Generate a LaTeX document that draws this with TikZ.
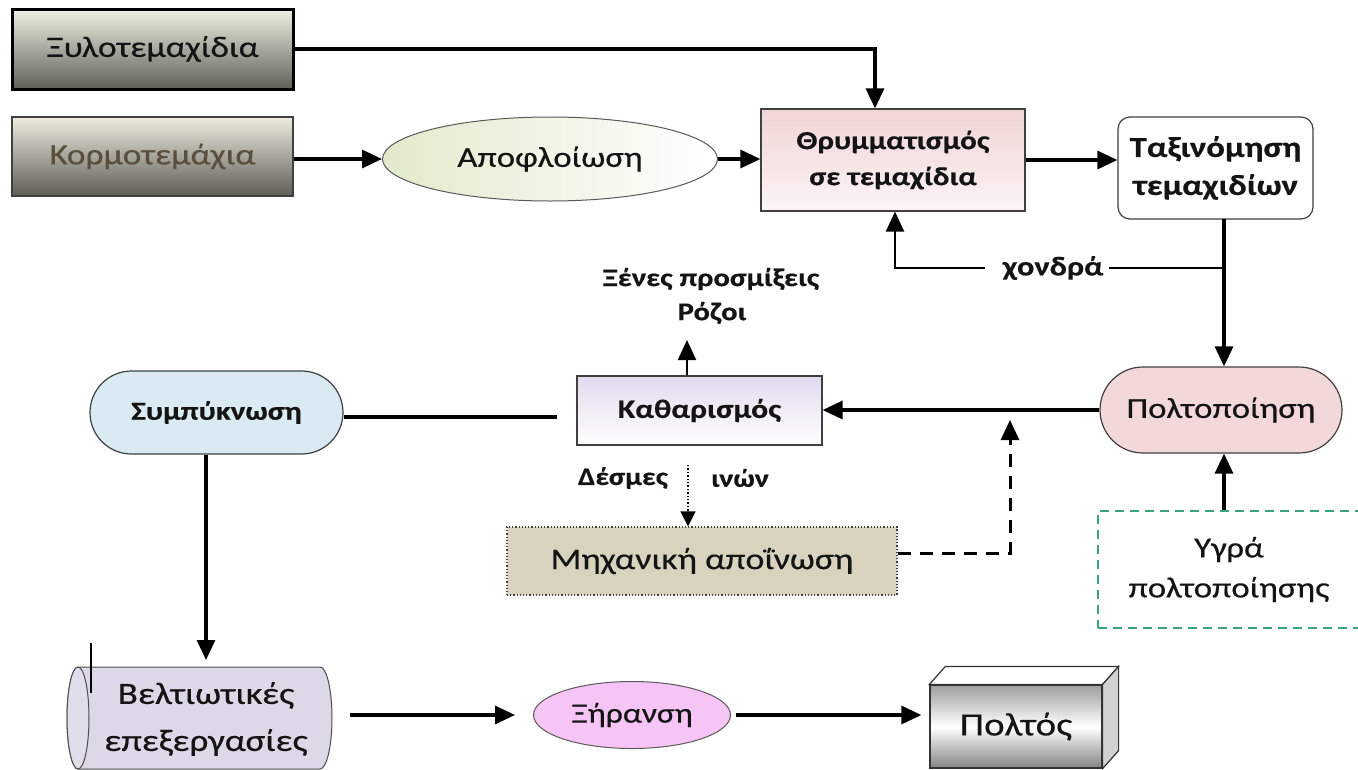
\documentclass[tikz,border=0pt]{standalone}
\usepackage{fontspec}
\setmainfont{Carlito}[FakeStretch=1.2,FakeBold=0.4]
\usetikzlibrary{arrows.meta,shapes.geometric,calc}
\definecolor{xyT}{HTML}{EEF1E3}
\definecolor{xyB}{HTML}{5D6157}
\definecolor{koT}{HTML}{EEEBE0}
\definecolor{koB}{HTML}{5E5D56}
\definecolor{koText}{HTML}{5A4E3E}
\definecolor{apL}{HTML}{E2EACC}
\definecolor{thT}{HTML}{F0D4D4}
\definecolor{thB}{HTML}{FCF4F4}
\definecolor{poltC}{HTML}{F2D8D8}
\definecolor{ygraG}{HTML}{3AA57A}
\definecolor{kaT}{HTML}{E0DAEE}
\definecolor{sympC}{HTML}{D9EAF3}
\definecolor{mixC}{HTML}{D8D2BF}
\definecolor{cylC}{HTML}{DCD8E8}
\definecolor{xerC}{HTML}{F6C5F6}
\newcommand{\fsz}[2]{\fontsize{#1}{#2}\selectfont}
\tikzset{
  tip/.style={-{Triangle[length=20pt,width=18pt]}},
  arr/.style={line width=3.2pt,tip},
  thinarr/.style={line width=2.2pt,tip},
  boxline/.style={draw=black!75,line width=1.2pt},
}
\begin{document}
\begin{tikzpicture}[x=1pt,y=-1pt,every node/.style={inner sep=0pt,align=center,text=black!92}]
\useasboundingbox (0,0) rectangle (1358,769);

% boxes
\node[draw=black,line width=3pt,top color=xyT,bottom color=xyB,minimum width=281pt,minimum height=80pt,font=\fsz{29.5}{34}] (xylo) at (152.5,49) {Ξυλοτεμαχίδια};
\node[boxline,top color=koT,bottom color=koB,minimum width=281pt,minimum height=79pt,font=\fsz{29.5}{34},text=koText] (korm) at (152.5,156.5) {Κορμοτεμάχια};
\node[ellipse,draw=black!65,line width=1pt,left color=apL,right color=white,minimum width=335pt,minimum height=84pt,font=\fsz{29}{34}] (apofl) at (550,159) {Αποφλοίωση};
\node[boxline,top color=thT,bottom color=thB,minimum width=264pt,minimum height=102pt,font=\fsz{26}{36}\bfseries] (thr) at (893,160) {Θρυμματισμός\\σε τεμαχίδια};
\node[boxline,fill=white,rounded corners=12pt,minimum width=195pt,minimum height=102pt,font=\fsz{29}{38}\bfseries] (tax) at (1215.5,168) {Ταξινόμηση\\τεμαχιδίων};
\node[boxline,fill=poltC,rounded corners=43pt,minimum width=242pt,minimum height=86pt,font=\fsz{29}{34}] (polt) at (1221,410) {Πολτοποίηση};
\node[draw=ygraG,line width=1.3pt,dash pattern=on 9pt off 6pt,fill=white,minimum width=262pt,minimum height=117pt,font=\fsz{29}{40}] (ygra) at (1229,569.5) {Υγρά\\πολτοποίησης};
\node[boxline,top color=kaT,bottom color=white,minimum width=245pt,minimum height=69pt,font=\fsz{26.5}{32}\bfseries] (kath) at (699.5,410.5) {Καθαρισμός};
\node[boxline,fill=sympC,rounded corners=41.5pt,minimum width=253pt,minimum height=83pt,font=\fsz{26}{32}\bfseries] (symp) at (216.5,412.5) {Συμπύκνωση};
\node[draw=black!75,line width=1.2pt,dotted,fill=mixC,minimum width=390pt,minimum height=68pt,font=\fsz{30}{36}] (mix) at (702,561) {Μηχανική αποΐνωση};

% cylinder
\filldraw[fill=cylC,draw=black!70,line width=1pt] (78,667) -- (320,667) arc[start angle=90,end angle=-90,x radius=12pt,y radius=51pt] -- (78,769) arc[start angle=270,end angle=90,x radius=11pt,y radius=51pt] -- cycle;
\filldraw[fill=cylC!85!white,draw=black!70,line width=1pt] (78,718) ellipse[x radius=11pt,y radius=51pt];
\draw[line width=1.5pt] (91,643) -- (91,693);
\node[minimum width=265pt,minimum height=102pt,font=\fsz{31}{47}] (cyl) at (206,719) {Βελτιωτικές\\επεξεργασίες};

\node[ellipse,draw=black!65,line width=1pt,fill=xerC,minimum width=197pt,minimum height=67pt,font=\fsz{28}{32}] (xer) at (632,715) {Ξήρανση};

% 3D box
\node[draw=black!80,line width=1.2pt,top color=black!38,bottom color=black!48,middle color=white,minimum width=172pt,minimum height=83pt,font=\fsz{32.5}{36}] (polto) at (1016,726.5) {Πολτός};
\filldraw[fill=white,draw=black!80,line width=1.2pt] (polto.north west) -- ++(16,-18) -- ($(polto.north east)+(16,-18)$) -- (polto.north east) -- cycle;
\filldraw[fill=black!18,draw=black!80,line width=1.2pt] (polto.north east) -- ++(16,-18) -- ($(polto.south east)+(16,-18)$) -- (polto.south east) -- cycle;

% labels
\node[font=\fsz{25.5}{30}\bfseries] (xen) at (711,279) {Ξένες προσμίξεις};
\node[font=\fsz{25.5}{30}\bfseries] (roz) at (712,313) {Ρόζοι};
\node[font=\fsz{25}{30}\bfseries] (desm) at (623,478) {Δέσμες};
\node[font=\fsz{25}{30}\bfseries] (inon) at (740,478) {ινών};
\node[font=\fsz{27}{30}\bfseries] (chond) at (1053,268) {χονδρά};

% coordinates
\coordinate (tx) at (1224,219);
\coordinate (br) at (1224,268);
\coordinate (ke) at (557,417);
\coordinate (rz) at (687,340);
\coordinate (ds) at (688,465);
\coordinate (dc) at (1010,420);
\coordinate (sd) at (206,660);

% connectors
\draw[arr] (xylo.east) -| ([xshift=-18pt]thr.north);
\draw[arr] (korm.east |- apofl.west) -- (apofl.west);
\draw[arr] (apofl.east) -- (apofl.east -| thr.west);
\draw[arr] (thr.east) -- (thr.east -| tax.west);
\draw[arr] (tx) -- (tx |- polt.north);
\draw[line width=1.3pt] (br) -- ([xshift=6pt]chond.east);
\draw[thinarr] ([xshift=-18pt]chond.west) -| ([xshift=2pt]thr.south);
\draw[arr] (polt.west) -- (polt.west -| kath.east);
\draw[line width=3.2pt] (symp.east |- ke) -- (ke);
\draw[thinarr] ([xshift=-12.5pt]kath.north) -- (rz);
\draw[line width=1.4pt,dotted,-{Triangle[length=15pt,width=15pt]}] (ds) -- (ds |- mix.north);
\draw[line width=3pt,dash pattern=on 13pt off 9pt,tip] ([yshift=8pt]mix.east) -| (dc);
\draw[arr] (tx |- ygra.north) -- (tx |- polt.south);
\draw[arr] (sd |- symp.south) -- (sd);
\draw[arr,shorten <=11pt,shorten >=18pt] (cyl.east |- xer.west) -- (xer.west);
\draw[arr,shorten <=5pt,shorten >=8pt] (xer.east) -- (xer.east -| polto.west);
\end{tikzpicture}
\end{document}
